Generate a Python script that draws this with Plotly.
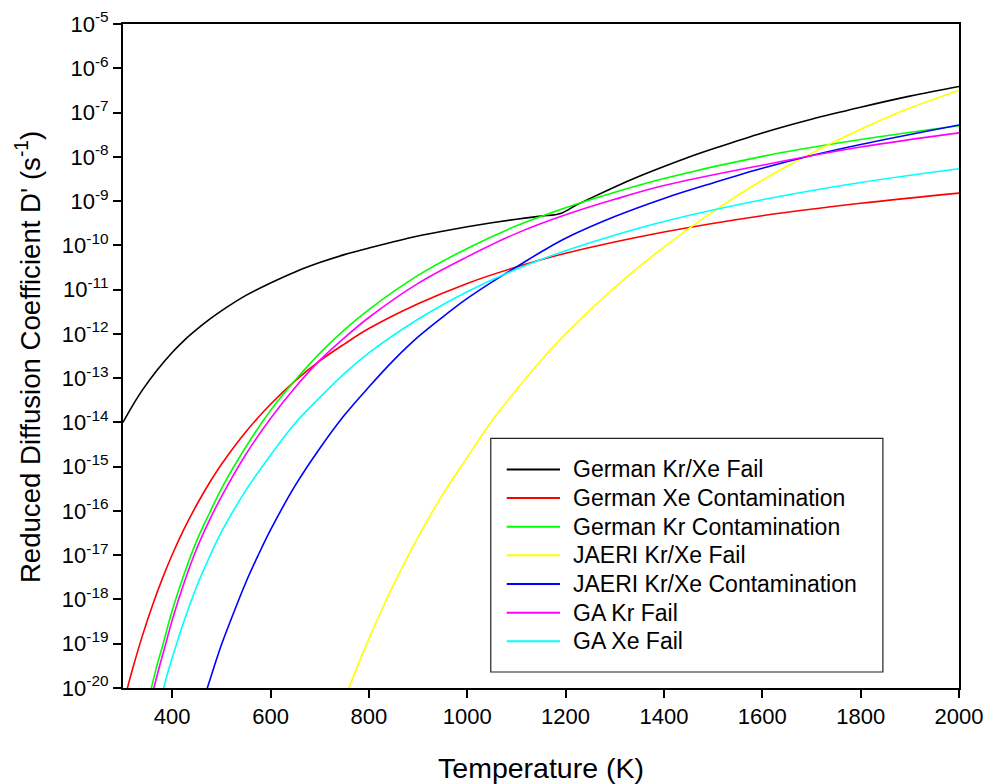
import plotly.graph_objects as go

# ---- data (temperature in K, log10 of D' in 1/s) ----
t_german_krxe_fail = [300, 320, 340, 370, 400, 425, 450, 475, 500, 550, 600, 650, 700, 750, 800, 850, 900, 950, 1000, 1050, 1100, 1150, 1190, 1220, 1250, 1300, 1350, 1400, 1450, 1500, 1600, 1700, 1800, 1900, 2000]
lg_german_krxe_fail = [-14.0, -13.61, -13.26, -12.81, -12.42, -12.14, -11.90, -11.68, -11.48, -11.13, -10.85, -10.60, -10.39, -10.21, -10.06, -9.92, -9.79, -9.68, -9.58, -9.49, -9.41, -9.34, -9.28, -9.10, -8.94, -8.68, -8.44, -8.22, -8.01, -7.82, -7.46, -7.15, -6.88, -6.63, -6.41]

t_german_xe_cont = [305, 320, 340, 360, 380, 400, 425, 450, 475, 500, 550, 600, 650, 700, 750, 800, 900, 1000, 1100, 1200, 1400, 1600, 1800, 2000]
lg_german_xe_cont = [-20.17, -19.55, -18.80, -18.13, -17.53, -16.99, -16.39, -15.86, -15.38, -14.95, -14.21, -13.59, -13.06, -12.61, -12.23, -11.88, -11.32, -10.86, -10.49, -10.18, -9.70, -9.33, -9.05, -8.82]

t_german_kr_cont = [355, 370, 380, 400, 425, 450, 475, 500, 550, 600, 650, 700, 750, 800, 900, 1000, 1100, 1200, 1300, 1400, 1600, 1800, 2000]
lg_german_kr_cont = [-20.12, -19.45, -19.07, -18.25, -17.40, -16.67, -16.07, -15.50, -14.55, -13.73, -13.05, -12.44, -11.91, -11.45, -10.68, -10.07, -9.56, -9.15, -8.80, -8.49, -7.99, -7.61, -7.30]

t_jaeri_fail = [755, 780, 800, 825, 850, 900, 950, 1000, 1050, 1100, 1150, 1200, 1300, 1400, 1500, 1600, 1700, 1800, 1900, 2000]
lg_jaeri_fail = [-20.12, -19.42, -18.89, -18.26, -17.67, -16.59, -15.63, -14.79, -13.97, -13.26, -12.60, -12.00, -10.95, -10.04, -9.24, -8.53, -7.92, -7.38, -6.90, -6.50]

t_jaeri_cont = [468, 485, 500, 525, 550, 575, 600, 650, 700, 750, 800, 850, 900, 950, 1000, 1050, 1100, 1150, 1200, 1300, 1400, 1500, 1600, 1700, 1800, 2000]
lg_jaeri_cont = [-20.12, -19.53, -19.03, -18.30, -17.61, -17.00, -16.43, -15.43, -14.59, -13.84, -13.20, -12.60, -12.07, -11.62, -11.20, -10.83, -10.49, -10.15, -9.84, -9.35, -8.94, -8.59, -8.26, -7.97, -7.72, -7.28]

t_ga_kr_fail = [360, 375, 385, 400, 425, 450, 475, 500, 550, 600, 650, 700, 750, 800, 900, 1000, 1100, 1200, 1300, 1400, 1600, 1800, 2000]
lg_ga_kr_fail = [-20.12, -19.48, -19.08, -18.47, -17.60, -16.85, -16.23, -15.68, -14.72, -13.91, -13.21, -12.60, -12.09, -11.63, -10.86, -10.26, -9.73, -9.31, -8.96, -8.65, -8.19, -7.78, -7.46]

t_ga_xe_fail = [380, 390, 400, 425, 450, 475, 500, 550, 600, 650, 700, 750, 800, 900, 1000, 1100, 1200, 1300, 1400, 1600, 1800, 2000]
lg_ga_xe_fail = [-20.12, -19.69, -19.32, -18.46, -17.70, -17.06, -16.48, -15.53, -14.74, -14.02, -13.44, -12.90, -12.43, -11.67, -11.05, -10.54, -10.12, -9.77, -9.46, -8.97, -8.58, -8.27]

series_names = ["German Kr/Xe Fail", "German Xe Contamination", "German Kr Contamination",
                "JAERI Kr/Xe Fail", "JAERI Kr/Xe Contamination", "GA Kr Fail", "GA Xe Fail"]
series_colors = ["#000000", "#ff0000", "#00ff00", "#ffff00", "#0000ff", "#ff00ff", "#00ffff"]
series_t = [t_german_krxe_fail, t_german_xe_cont, t_german_kr_cont, t_jaeri_fail,
            t_jaeri_cont, t_ga_kr_fail, t_ga_xe_fail]
series_lg = [lg_german_krxe_fail, lg_german_xe_cont, lg_german_kr_cont, lg_jaeri_fail,
             lg_jaeri_cont, lg_ga_kr_fail, lg_ga_xe_fail]

x_ticks = [400, 600, 800, 1000, 1200, 1400, 1600, 1800, 2000]
y_exponents = list(range(-20, -4))

FONT = "Liberation Sans, Arial, sans-serif"

fig = go.Figure()
for name, color, t, lg in zip(series_names, series_colors, series_t, series_lg):
    fig.add_trace(go.Scatter(
        x=t, y=[10.0 ** v for v in lg], mode="lines", name=name,
        line=dict(color=color, width=1.6, shape="spline", smoothing=1.0),
        showlegend=False,
    ))

W, H = 987, 784
L, R, T, B = 122.5, 959.5, 24.3, 687.7

def px_to_paper_x(px):
    return (px - L) / (R - L)

def px_to_paper_y(py):
    return (B - py) / (B - T)

# legend drawn as a boxed key (line samples + labels)
shapes = [dict(
    type="rect", xref="paper", yref="paper",
    x0=px_to_paper_x(490.7), x1=px_to_paper_x(883.3),
    y0=px_to_paper_y(671.7), y1=px_to_paper_y(438.3),
    line=dict(color="#222222", width=1.2), fillcolor="white", layer="above",
)]
annotations = []
row0, row_step = 469.3, 28.62
for i, (name, color) in enumerate(zip(series_names, series_colors)):
    yy = px_to_paper_y(row0 + i * row_step)
    shapes.append(dict(type="line", xref="paper", yref="paper",
                       x0=px_to_paper_x(506.7), x1=px_to_paper_x(560), y0=yy, y1=yy,
                       line=dict(color=color, width=2), layer="above"))
    annotations.append(dict(xref="paper", yref="paper", x=px_to_paper_x(571), y=yy,
                            xanchor="left", yanchor="middle", text=name, showarrow=False,
                            font=dict(family=FONT, size=23, color="black")))

# y-axis title
annotations.append(dict(xref="paper", yref="paper", x=px_to_paper_x(28), y=px_to_paper_y(357.5),
                        xanchor="center", yanchor="middle", textangle=-90, showarrow=False,
                        text="Reduced Diffusion Coefficient D' (s<sup>-1</sup>)",
                        font=dict(family=FONT, size=27.6, color="black")))

fig.update_layout(
    width=W, height=H,
    margin=dict(l=L, r=W - R, t=T, b=H - B, autoexpand=False),
    paper_bgcolor="white", plot_bgcolor="white",
    font=dict(family=FONT, color="black"),
    showlegend=False,
    shapes=shapes,
    annotations=annotations,
)

fig.update_xaxes(
    range=[300, 2000], tickmode="array", tickvals=x_ticks,
    ticktext=[str(v) for v in x_ticks],
    ticks="outside", ticklen=8, tickwidth=2, tickcolor="black",
    showline=True, linewidth=2, linecolor="black", mirror=True,
    showgrid=False, zeroline=False,
    tickfont=dict(family=FONT, size=22, color="black"),
    title=dict(text="Temperature (K)", font=dict(family=FONT, size=28.5, color="black"), standoff=33),
    automargin=False,
)
fig.update_yaxes(
    type="log", range=[-20, -5], tickmode="array",
    tickvals=[10.0 ** e for e in y_exponents],
    ticktext=["10<sup>%d</sup>" % e for e in y_exponents],
    ticks="outside", ticklen=8, tickwidth=2, tickcolor="black",
    showline=True, linewidth=2, linecolor="black", mirror=True,
    showgrid=False, zeroline=False,
    tickfont=dict(family=FONT, size=22, color="black"),
    automargin=False,
)

fig.write_html("out.html")
